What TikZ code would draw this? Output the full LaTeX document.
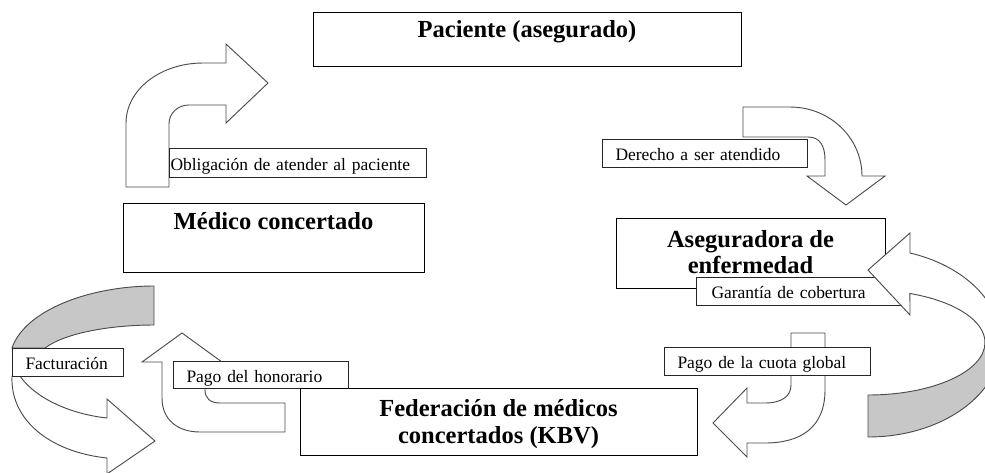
\documentclass[tikz,border=0pt]{standalone}
\usepackage{fontspec}
\setmainfont{Liberation Serif}
\usepackage{xcolor}
\tikzset{
    caja/.style={draw=black, line width=1.1pt, fill=white, inner sep=0pt, anchor=north west},
    titulo/.style={align=center, inner sep=0pt, font=\fontsize{18.4}{19.9}\selectfont\bfseries},
    etiq/.style={draw=black!85, line width=0.75pt, fill=white, inner ysep=0pt, anchor=north west,
        align=left, text height=1.25em, text depth=0.2em, font=\fontsize{13.1}{15}\selectfont},
    flecha/.style={draw=black!70, line width=0.7pt, fill=white, line join=miter},
    dorso/.style={flecha, fill=black!22},
}
\newcommand{\caja}[7] {
    \pgfmathsetmacro{\anchoC}{(#4-#2)*0.75}
    \pgfmathsetmacro{\altoC}{(#5-#3)*0.75}
    \node[caja, minimum width=\anchoC pt, minimum height=\altoC pt] (#1) at (#2,#3) {};
    \node[titulo] (#1-t) at ({(#2+#4)/2},#6) {#7};
}
\newcommand{\etiqueta}[7][13] {
    \pgfmathsetmacro{\margenE}{#1*0.75}
    \pgfmathsetmacro{\anchoE}{(#5-#3-2*#1)*0.75}
    \pgfmathsetmacro{\altoE}{(#6-#4)*0.75}
    \node[etiq, inner xsep=\margenE pt, text width=\anchoE pt, minimum height=\altoE pt]
        (#2) at (#3,#4) {#7};
}

\begin{document}
\begin{tikzpicture}[x=0.75pt, y=-0.75pt]
        \useasboundingbox (0,0) rectangle (985,472);
        \clip (0,0) rectangle (985,472);
        \draw[flecha] (126,187) -- (126,123) .. controls (126,90) and (160,63) .. (203,63)
            -- (226,63) -- (226,44) -- (268,83) -- (226,123) -- (226,105) -- (189,105)
            .. controls (178,105) and (169,113) .. (169,124) -- (169,187) -- cycle;
        \etiqueta[1]{obligacion}{169}{148}{426}{177}{Obligación de atender al paciente}
        \caja{paciente}{313}{12}{741}{66}{32}{Paciente (asegurado)}
        \caja{medico}{123}{203}{424}{272}{221.5}{Médico concertado}
        \draw[flecha] (743,107) -- (790,107) .. controls (830,107) and (862,138) .. (862,176)
            -- (885,176) -- (846,205) -- (807,176) -- (825,176) -- (825,160)
            .. controls (825,146) and (820,137) .. (808,137) -- (743,137) -- cycle;
        \etiqueta{derecho}{602}{139}{807}{167}{Derecho a ser atendido}
        \caja{aseguradora}{616}{218}{885}{288}{252}{Aseguradora de\\enfermedad}
        \etiqueta[15]{garantia}{696}{277}{905}{305}{Garantía de cobertura}
        \draw[dorso] (868,395) arc[start angle=90, end angle=0, x radius=117, y radius=52.5]
            -- (1001,342.5) arc[start angle=0, end angle=90, x radius=133, y radius=94.5] -- cycle;
        \draw[flecha] (868,270) -- (910,233) -- (910,253)
            arc[start angle=-71.6, end angle=0, x radius=133, y radius=94.5] -- (985,342.5)
            arc[start angle=0, end angle=-69, x radius=117, y radius=52.5] -- (910,315) -- cycle;
        \draw[dorso] (154,286) .. controls (90,286) and (25,310) .. (12,348) -- (45,348)
            .. controls (65,333) and (110,325) .. (154,325) -- cycle;
        \draw[flecha] (20,376) .. controls (35,398) and (70,414) .. (107,418) -- (107,399)
            -- (155,441) -- (107,474) -- (107,458) .. controls (50,452) and (10,420) .. (12,376) -- cycle;
        \etiqueta{facturacion}{12}{348}{123}{376}{Facturación}
        \draw[flecha] (182,333) -- (222,362) -- (205,362) -- (205,390)
            .. controls (205,398) and (210,403) .. (220,403) -- (285,403) -- (285,432) -- (200,432)
            .. controls (178,432) and (162,420) .. (162,398) -- (162,362) -- (142,362) -- cycle;
        \etiqueta{honorario}{173}{361}{348}{388}{Pago del honorario}
        \caja{federacion}{300}{388}{697}{455}{424}{Federación de médicos\\concertados (KBV)}
        \draw[flecha] (791,333) -- (825,333) -- (825,390) .. controls (825,428) and (800,443) .. (765,443)
            -- (747,443) -- (747,457) -- (713,423) -- (747,388) -- (747,403) -- (765,403)
            .. controls (782,403) and (791,396) .. (791,385) -- cycle;
        \etiqueta{cuota}{664}{347}{870}{375}{Pago de la cuota global}
    \end{tikzpicture}
\end{document}
